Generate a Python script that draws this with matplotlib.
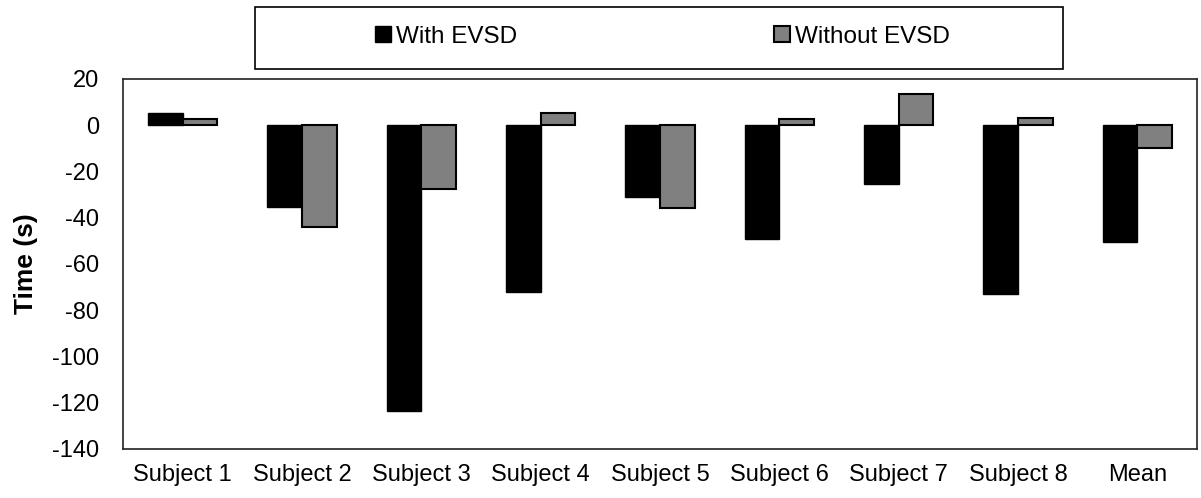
import matplotlib.pyplot as plt
from matplotlib.patches import Rectangle, Patch
import numpy as np

plt.rcParams['font.family'] = ['Liberation Sans', 'DejaVu Sans']
plt.rcParams['axes.unicode_minus'] = False

subjects = ['Subject 1', 'Subject 2', 'Subject 3', 'Subject 4', 'Subject 5',
            'Subject 6', 'Subject 7', 'Subject 8', 'Mean']
with_evsd = [5.1, -35.4, -123.4, -71.9, -31.0, -49.0, -25.5, -73.0, -50.5]
without_evsd = [2.5, -44.0, -27.4, 5.2, -35.8, 2.7, 13.3, 3.2, -10.0]
yticks = [20, 0, -20, -40, -60, -80, -100, -120, -140]

fig = plt.figure(figsize=(12.01, 4.98), dpi=100)
ax = fig.add_axes([0.1024, 0.0984, 0.8943, 0.7430])

x = np.arange(len(subjects))
w = 0.29
ax.bar(x - w / 2, with_evsd, w, color='black', edgecolor='black', linewidth=1)
ax.bar(x + w / 2, without_evsd, w, color='#808080', edgecolor='black', linewidth=1.5)

ax.set_xlim(-0.5, len(subjects) - 0.5)
ax.set_ylim(-140, 20)
ax.set_yticks(yticks)
ax.set_xticks(x)
ax.set_xticklabels(subjects)
ax.tick_params(axis='both', length=0, labelsize=17)
ax.tick_params(axis='y', pad=17)
ax.tick_params(axis='x', pad=11)
ax.set_ylabel('Time (s)', fontsize=19, fontweight='bold', labelpad=10)
for s in ax.spines.values():
    s.set_color('#222222')
    s.set_linewidth(1.2)

# legend box
fig.patches.append(Rectangle((0.2123, 0.8614), 0.6728, 0.1245, transform=fig.transFigure,
                             facecolor='white', edgecolor='black', linewidth=1.2))
handles = [Patch(facecolor='black', edgecolor='black'),
           Patch(facecolor='#808080', edgecolor='black', linewidth=1.5)]
fig.legend(handles, ['With EVSD', 'Without EVSD'], loc='center',
           bbox_to_anchor=(0.5516, 0.9267), ncol=2, frameon=False, fontsize=17.5,
           handlelength=0.65, handleheight=0.65, handletextpad=0.2,
           columnspacing=10.6)

fig.savefig('out.png', dpi=100)
